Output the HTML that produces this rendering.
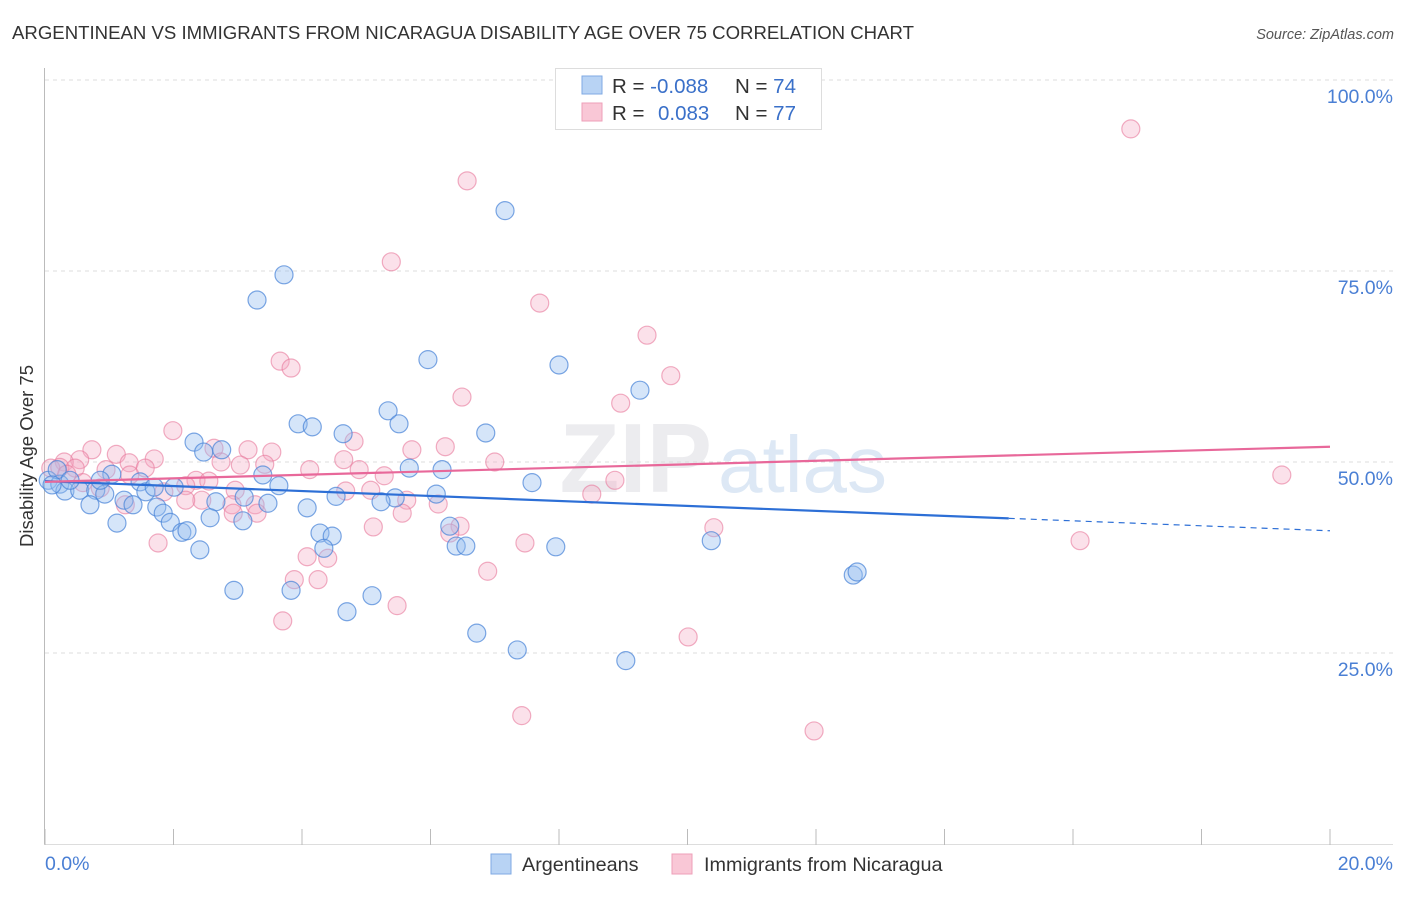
<!DOCTYPE html>
<html><head><meta charset="utf-8"><style>
body{margin:0;background:#fff;font-family:"Liberation Sans",sans-serif;}
svg text{font-family:"Liberation Sans",sans-serif;}
</style></head><body>
<svg id="chart" width="1406" height="892">
<text x="12" y="39" font-size="18.6" fill="#333">ARGENTINEAN VS IMMIGRANTS FROM NICARAGUA DISABILITY AGE OVER 75 CORRELATION CHART</text>
<text x="1394" y="39" font-size="14.5" fill="#555" text-anchor="end" font-style="italic">Source: ZipAtlas.com</text>
<text x="712" y="492" font-size="98" fill="#ececef" font-weight="bold" font-family="Liberation Serif" text-anchor="end">ZIP</text>
<text x="718" y="492" font-size="80" fill="#dde8f5">atlas</text>
<g id="grid"></g>
<g id="axes"></g>
<g id="marks"></g>
<text transform="translate(33,456) rotate(-90)" font-size="18.5" fill="#333" text-anchor="middle">Disability Age Over 75</text>
<g>
<rect x="555.5" y="68.5" width="266" height="61" fill="#fff" stroke="#ddd"/>
<rect x="582" y="76" width="20" height="18" fill="#b8d3f4" stroke="#7fa9e3"/>
<rect x="582" y="103" width="20" height="18" fill="#f9c7d6" stroke="#ee9fb8"/>
<text x="612" y="93" font-size="20.5" fill="#333">R = <tspan fill="#3a70c9">-0.088</tspan><tspan x="735">N = </tspan><tspan fill="#3a70c9">74</tspan></text>
<text x="612" y="120" font-size="20.5" fill="#333">R = <tspan x="658" fill="#3a70c9">0.083</tspan><tspan x="735">N = </tspan><tspan fill="#3a70c9">77</tspan></text>
</g>
<g>
<rect x="491" y="854" width="20" height="20" fill="#b8d3f4" stroke="#7fa9e3"/>
<text x="522" y="871" font-size="19.8" fill="#333">Argentineans</text>
<rect x="672" y="854" width="20" height="20" fill="#f9c7d6" stroke="#ee9fb8"/>
<text x="704" y="871" font-size="19.8" fill="#333">Immigrants from Nicaragua</text>
</g>
</svg>
<script>
const blueX=[7.16,3.72,3.30,5.96,8.00,9.26,5.34,3.94,4.16,5.51,4.64,6.86,2.32,2.75,2.47,5.67,6.18,3.39,1.04,1.48,3.64,2.01,0.05,0.23,0.31,0.54,0.79,0.93,1.23,1.57,1.70,4.53,5.45,6.09,7.58,0.70,1.37,1.74,1.84,2.66,3.10,3.47,4.08,5.23,1.12,1.95,2.13,2.21,2.57,3.08,6.30,4.28,4.47,4.34,6.40,6.55,7.95,2.41,10.37,12.58,12.64,2.94,3.83,5.09,4.70,6.72,7.35,9.04,0.19,0.11,0.39,0.86];
const blueY=[82.9,74.5,71.2,63.4,62.7,59.4,56.7,55.0,54.6,55.0,53.7,53.8,52.6,51.6,51.3,49.2,49.0,48.3,48.4,47.4,46.9,46.7,47.6,47.1,46.2,46.3,46.3,45.8,45.0,46.1,46.7,45.5,45.3,45.8,47.3,44.4,44.4,44.1,43.3,44.8,45.4,44.6,44.0,44.8,42.0,42.1,40.8,41.0,42.7,42.3,41.6,40.7,40.3,38.7,39.0,39.0,38.9,38.5,39.7,35.2,35.6,33.2,33.2,32.5,30.4,27.6,25.4,24.0,49.0,47.0,47.6,47.6];
const pinkX=[16.90,6.57,5.39,7.70,9.37,3.66,3.83,9.74,6.49,8.96,1.99,4.81,3.53,3.16,2.63,0.73,6.23,5.71,1.11,1.70,1.31,0.54,0.30,4.65,7.00,4.89,5.28,3.42,2.74,1.56,0.95,0.09,0.23,0.47,8.87,19.25,2.35,2.55,2.19,1.85,2.96,4.68,5.07,5.63,8.51,2.44,2.19,2.91,3.27,3.30,2.93,1.25,6.12,5.56,5.11,6.46,10.41,1.76,7.47,16.11,4.08,4.40,6.89,3.88,4.25,5.48,3.70,10.01,7.42,11.97,1.32,0.86,0.34,0.59,6.30,3.04,4.12];
const pinkY=[93.6,86.8,76.2,70.8,66.6,63.2,62.3,61.3,58.5,57.7,54.1,52.7,51.3,51.6,51.8,51.6,52.0,51.6,51.0,50.4,49.9,50.3,50.0,50.3,50.0,49.0,48.2,49.7,50.0,49.2,49.0,49.2,49.3,49.2,47.6,48.3,47.6,47.5,46.9,46.1,46.3,46.2,46.3,45.0,45.8,45.0,45.0,44.4,44.4,43.3,43.3,44.4,44.5,43.3,41.5,41.6,41.4,39.4,39.4,39.7,37.6,37.4,35.7,34.6,34.6,31.2,29.2,27.1,16.8,14.8,48.3,46.6,48.4,47.3,40.7,49.6,49.0];
const blueTrend=[47.5,41.0];
const blueSolidEnd=15.0;
const pinkTrend=[47.4,52.0];
const yTicks=[25,50,75,100];
const yTickLabels=["25.0%","50.0%","75.0%","100.0%"];
const xTicks=[0,2,4,6,8,10,12,14,16,18,20];

const NS="http://www.w3.org/2000/svg";
const sx=v=>45+v*64.25;
const sy=v=>844-v*7.64;
function mk(tag,attrs,parent){const e=document.createElementNS(NS,tag);for(const k in attrs)e.setAttribute(k,attrs[k]);document.getElementById(parent).appendChild(e);return e;}
yTicks.forEach((t,i)=>{
 const g=mk('line',{x1:45,x2:1393,y1:sy(t),y2:sy(t),stroke:'#ddd','stroke-dasharray':'4,4'},'grid');
 
 
 const l=mk('text',{x:1393,y:sy(t)+23,'font-size':19.5,fill:'#4a7fd4','text-anchor':'end'},'grid');
 l.textContent=yTickLabels[i];
 
 
});
const ax=mk('line',{x1:44.5,x2:44.5,y1:68,y2:845,stroke:'#bbb'},'axes');


const bx=mk('line',{x1:44,x2:1393,y1:844.5,y2:844.5,stroke:'#ddd'},'axes');


xTicks.forEach(t=>{
 const k=mk('line',{x1:sx(t),x2:sx(t),y1:829,y2:845,stroke:'#bbb'},'axes');
 
 
});
const xl0=mk('text',{x:45,y:870,'font-size':19.5,fill:'#4a7fd4'},'axes');xl0.textContent="0.0%";


const xl1=mk('text',{x:1393,y:870,'font-size':19.5,fill:'#4a7fd4','text-anchor':'end'},'axes');xl1.textContent="20.0%";



pinkX.forEach((x,i)=>{
 const c=mk('circle',{cx:sx(x),cy:sy(pinkY[i]),r:9,fill:'rgba(244,170,195,0.35)',stroke:'rgba(232,120,155,0.6)','stroke-width':1.2},'marks');
 
 
});
blueX.forEach((x,i)=>{
 const c=mk('circle',{cx:sx(x),cy:sy(blueY[i]),r:9,fill:'rgba(150,190,240,0.4)',stroke:'rgba(70,130,215,0.7)','stroke-width':1.2},'marks');
 
 
});
const bAt=x=>blueTrend[0]+(blueTrend[1]-blueTrend[0])*x/20;
const t1=mk('line',{x1:sx(0),y1:sy(bAt(0)),x2:sx(blueSolidEnd),y2:sy(bAt(blueSolidEnd)),stroke:'#2d6fd6','stroke-width':2.2},'marks');


const t2=mk('line',{x1:sx(blueSolidEnd),y1:sy(bAt(blueSolidEnd)),x2:sx(20),y2:sy(bAt(20)),stroke:'#2d6fd6','stroke-width':1.2,'stroke-dasharray':'6,5'},'marks');


const t3=mk('line',{x1:sx(0),y1:sy(pinkTrend[0]),x2:sx(20),y2:sy(pinkTrend[1]),stroke:'#e8689a','stroke-width':2.2},'marks');


</script>
</body></html>
